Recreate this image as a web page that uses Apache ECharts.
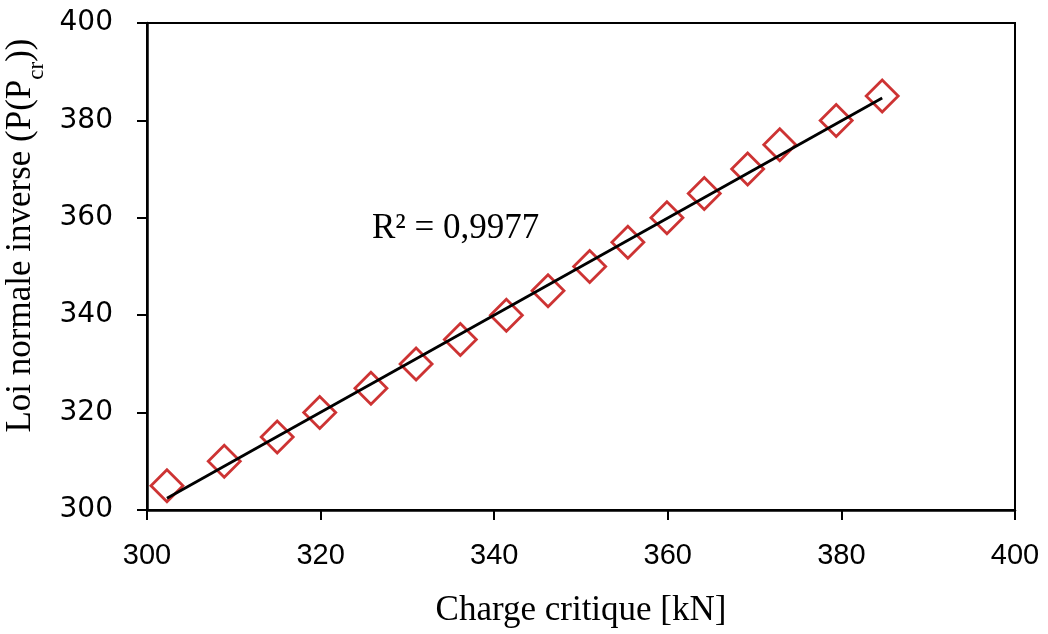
<!DOCTYPE html>
<html><head><meta charset="utf-8">
<script src="https://cdn.jsdelivr.net/npm/echarts@6/dist/echarts.min.js"></script>
<style>html,body{margin:0;padding:0;background:#fff}#c{width:1048px;height:634px}</style>
</head><body><div id="c"></div>
<script>
const chargeX = [302.3, 308.9, 315.0, 319.9, 325.8, 331.0, 336.1, 341.4, 346.2, 351.0, 355.4, 359.9, 364.2, 369.2, 372.9, 379.4, 384.7];
const loiY = [305, 310, 315, 320, 325, 330, 335, 340, 345, 350, 355, 360, 365, 370, 375, 380, 385];
const trendX = [302.3, 384.7];
const trendY = [302.4, 384.6];
const xTicks = [300, 320, 340, 360, 380, 400];
const yTicks = [300, 320, 340, 360, 380, 400];
const r2Label = 'R² = 0,9977';

const chart = echarts.init(document.getElementById('c'));
chart.setOption({
  animation: false,
  grid: {left: 147, right: 33, top: 23, bottom: 124, show: true, borderColor: '#000', borderWidth: 2, containLabel: false, outerBoundsMode: 'none'},
  xAxis: {
    type: 'value', min: xTicks[0], max: xTicks[xTicks.length-1], interval: 20,
    axisLine: {lineStyle: {color: '#000', width: 2.5}},
    axisTick: {show: true, length: 10, lineStyle: {color: '#000', width: 2}},
    splitLine: {show: false},
    axisLabel: {color: '#000', fontFamily: 'Liberation Sans', fontSize: 29, margin: 31},
    name: 'Charge critique [kN]', nameLocation: 'middle', nameGap: 83,
    nameTextStyle: {color: '#000', fontFamily: 'Liberation Serif', fontSize: 35}
  },
  yAxis: {
    type: 'value', min: yTicks[0], max: yTicks[yTicks.length-1], interval: 20,
    axisLine: {lineStyle: {color: '#000', width: 2.5}},
    axisTick: {show: true, length: 10, lineStyle: {color: '#000', width: 2}},
    splitLine: {show: false},
    axisLabel: {color: '#000', fontFamily: 'DejaVu Sans', fontSize: 28, margin: 34},
    name: '{a|Loi normale inverse (P(P}{s|cr}{a|))}', nameLocation: 'middle', nameGap: 100, nameRotate: 90,
    nameTextStyle: {color: '#000', padding: [0, 0, 0, 62], rich: {
      a: {fontFamily: 'Liberation Serif', fontSize: 35, color: '#000'},
      s: {fontFamily: 'Liberation Serif', fontSize: 23, color: '#000', verticalAlign: 'bottom', padding: [0,0,-10,0]}
    }}
  },
  series: [
    {type: 'line', data: trendX.map((x,i)=>[x, trendY[i]]), showSymbol: false, symbol: 'none',
     lineStyle: {color: '#000', width: 2.8}, z: 3},
    {type: 'scatter', data: chargeX.map((x,i)=>[x, loiY[i]]), symbol: 'diamond', symbolSize: 32,
     itemStyle: {color: 'rgba(0,0,0,0)', borderColor: '#C00000', borderWidth: 2.8}, z: 2}
  ],
  graphic: [{type: 'text', left: 372, top: 211, style: {text: r2Label, fontFamily: 'Liberation Serif', fontSize: 35, fill: '#000'}}]
});
</script></body></html>
